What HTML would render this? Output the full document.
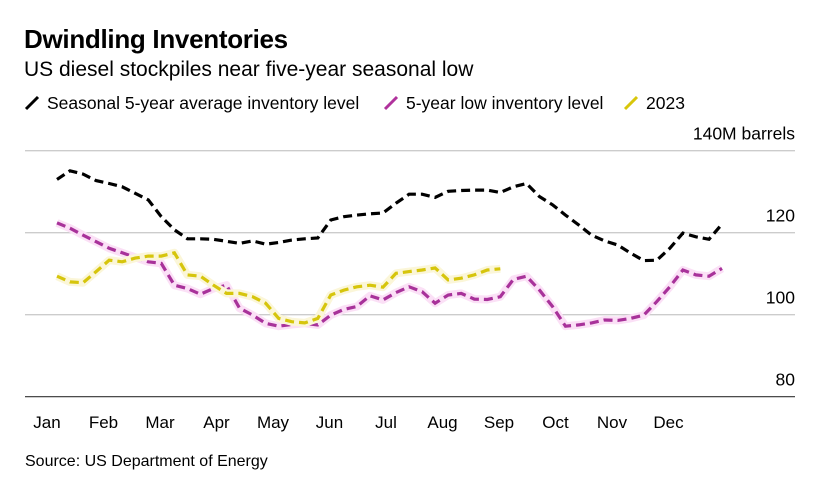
<!DOCTYPE html>
<html><head><meta charset="utf-8"><style>
body{margin:0;background:#fff;font-family:"Liberation Sans",sans-serif;}
#wrap{position:relative;width:832px;height:484px;overflow:hidden;}
.t{position:absolute;white-space:nowrap;color:#000;}
</style></head><body>
<div id="wrap">
<div class="t" style="left:24px;top:24px;font-size:26px;font-weight:bold;letter-spacing:-0.3px">Dwindling Inventories</div>
<div class="t" style="left:24px;top:58px;font-size:21px;">US diesel stockpiles near five-year seasonal low</div>
<svg width="832" height="484" style="position:absolute;left:0;top:0">
<g id="legend" font-size="17.5" font-family="Liberation Sans">
<g><line x1="26" y1="109" x2="38" y2="97" stroke="#000" stroke-width="3"/><text x="47" y="109">Seasonal 5-year average inventory level</text></g>
<g><line x1="385" y1="109" x2="397" y2="97" stroke="#b0329c" stroke-width="3"/><text x="406" y="109">5-year low inventory level</text></g>
<g><line x1="625" y1="109" x2="637" y2="97" stroke="#d8c60a" stroke-width="3"/><text x="646" y="109">2023</text></g>
</g>
<g id="grid"></g><g id="series"></g><g id="xaxis"></g>
<text x="25" y="466" font-size="16" font-family="Liberation Sans">Source: US Department of Energy</text>
</svg>
</div>
<script>
const avgSeries=[133.0,135.1,134.3,132.7,132.0,131.2,129.6,128.0,123.9,120.7,118.5,118.5,118.4,117.9,117.4,118.0,117.2,117.6,118.2,118.5,118.7,123.1,123.9,124.3,124.6,124.8,127.2,129.4,129.4,128.6,130.1,130.3,130.4,130.4,129.8,131.2,132.0,128.8,126.8,124.3,121.9,119.4,118.0,117.0,115.0,113.2,113.3,116.2,119.9,119.0,118.4,122.1];
const lowSeries=[122.4,121.1,119.4,117.8,116.2,115.1,114.0,112.9,112.5,107.2,106.4,105.0,106.4,107.2,101.6,99.9,97.9,97.2,97.6,97.9,97.5,99.9,101.3,102.0,104.6,103.6,105.4,106.8,105.6,102.8,104.8,105.2,103.8,103.7,104.4,108.6,109.4,106.0,102.0,97.2,97.5,98.0,98.7,98.6,99.1,99.9,103.2,106.8,110.9,109.7,109.4,111.3];
const series2023=[109.4,108.0,107.8,110.5,113.3,112.9,113.8,114.3,114.3,115.1,109.7,109.4,107.2,105.2,105.2,104.4,102.8,99.1,98.3,98.0,99.1,104.8,106.0,106.8,107.2,106.7,110.1,110.5,110.9,111.4,108.5,108.9,109.7,110.9,111.2];
const yTicks=[80,100,120,140];
const yTickLabels=["80","100","120","140M barrels"];
const months=["Jan","Feb","Mar","Apr","May","Jun","Jul","Aug","Sep","Oct","Nov","Dec"];
const NS="http://www.w3.org/2000/svg";
const x0=57,x1=722,nW=avgSeries.length;
const xw=i=>x0+i*(x1-x0)/(nW-1);
const yv=v=>314.7-(v-100)*4.1;
const grid=document.getElementById('grid');
yTicks.forEach((t,i)=>{
 const l=document.createElementNS(NS,'line');
 
 
 l.setAttribute('x1',25);l.setAttribute('x2',795);
 l.setAttribute('y1',yv(t));l.setAttribute('y2',yv(t));
 l.setAttribute('stroke',t===80?'#333':'#ccc');l.setAttribute('stroke-width',t===80?1.2:1.3);
 grid.appendChild(l);
 const tx=document.createElementNS(NS,'text');
 
 
 tx.setAttribute('x',795);tx.setAttribute('y',yv(t)-11);
 tx.setAttribute('text-anchor','end');tx.setAttribute('font-size','17.5');tx.setAttribute('font-family','Liberation Sans');
 tx.textContent=yTickLabels[i];grid.appendChild(tx);
});
const xa=document.getElementById('xaxis');
months.forEach((m,i)=>{
 const tx=document.createElementNS(NS,'text');
 
 
 tx.setAttribute('x',47+i*56.5);tx.setAttribute('y',428);
 tx.setAttribute('text-anchor','middle');tx.setAttribute('font-size','17');tx.setAttribute('font-family','Liberation Sans');
 tx.textContent=m;xa.appendChild(tx);
});
const sg=document.getElementById('series');
function draw(data,color,halo,name){
 const d=data.map((v,i)=>(i?'L':'M')+xw(i).toFixed(1)+' '+yv(v).toFixed(1)).join(' ');
 if(halo){const h=document.createElementNS(NS,'path');
 
 
 h.setAttribute('d',d);h.setAttribute('fill','none');h.setAttribute('stroke',halo);h.setAttribute('stroke-width','8');h.setAttribute('stroke-linejoin','round');sg.appendChild(h);}
 const p=document.createElementNS(NS,'path');
 
 
 p.setAttribute('d',d);p.setAttribute('fill','none');p.setAttribute('stroke',color);p.setAttribute('stroke-width','3.2');p.setAttribute('stroke-dasharray','9 5');
 sg.appendChild(p);
}
draw(avgSeries,'#000',null,'average-line');
draw(lowSeries,'#a8329a','#fbe0f6','low-line');
draw(series2023,'#d6c50c','#fbf6d8','line-2023');
</script>
</body></html>
